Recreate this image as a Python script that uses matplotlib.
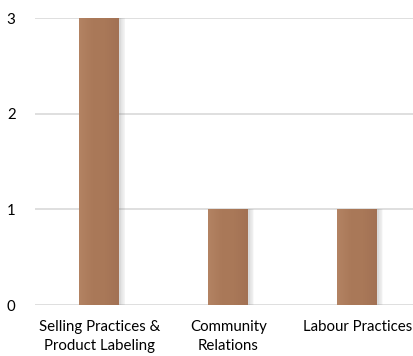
import matplotlib.pyplot as plt
import numpy as np
from matplotlib.colors import LinearSegmentedColormap

# Anzahl der Fälle je Kategorie
kategorien = ['Selling Practices &\nProduct Labeling', 'Community\nRelations', 'Labour Practices']
werte = [3, 1, 1]

plt.rcParams['font.family'] = ['Lato', 'DejaVu Sans']

fig = plt.figure(figsize=(4.14, 3.56), dpi=100)
ax = fig.add_axes([0.0845, 0.143, 0.9155, 0.806])

x = np.arange(len(kategorien))
breite = 0.31

# weicher Schatten rechts neben den Balken
for i in range(7):
    ax.bar(x + 0.01 + i * 0.006, werte, width=breite, color='#808080', alpha=0.045, zorder=2)

# Balken mit leichtem Farbverlauf von links nach rechts
verlauf = np.linspace(0, 1, 50).reshape(1, -1)
cmap = LinearSegmentedColormap.from_list('braun', ['#B38363', '#AA7959', '#A97858', '#A27154'])
balken = ax.bar(x, werte, width=breite, color='none', zorder=3)
for b in balken:
    x0, y0 = b.get_x(), b.get_y()
    im = ax.imshow(verlauf, cmap=cmap, extent=[x0, x0 + b.get_width(), y0, y0 + b.get_height()],
                   aspect='auto', zorder=3)
    im.set_clip_path(b)

ax.set_xlim(-0.5, 2.44)
ax.set_ylim(0, 3)
ax.set_yticks([0, 1, 2, 3])
ax.set_xticks(x)
ax.set_xticklabels(kategorien, fontsize=10.8, linespacing=1.45)
ax.yaxis.grid(True, color='#D9D9D9', linewidth=1.2, zorder=0)
ax.set_axisbelow(True)
for s in ax.spines.values():
    s.set_visible(False)
ax.tick_params(axis='y', length=0, pad=14, labelsize=10.8)
ax.tick_params(axis='x', length=0, pad=11)

fig.savefig('out.png', dpi=100)
